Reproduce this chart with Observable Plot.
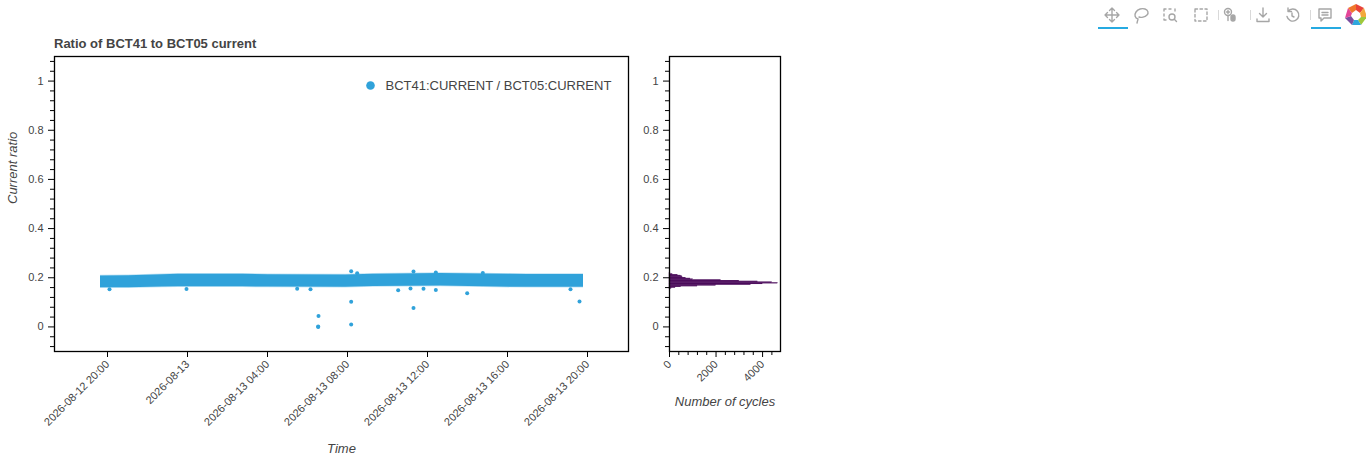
<!DOCTYPE html>
<html><head><meta charset="utf-8">
<script src="https://cdn.jsdelivr.net/npm/d3@7"></script>
<script src="https://cdn.jsdelivr.net/npm/@observablehq/plot@0.6"></script>
<style>
body{margin:0;background:#fff;font-family:"Liberation Sans",Arial,Helvetica,sans-serif;}
#wrap{position:relative;width:1366px;height:460px;overflow:hidden;background:#fff;}
#main{position:absolute;left:0;top:0;}
#hist{position:absolute;left:630px;top:0;}
#title{position:absolute;left:54px;top:37px;font-weight:bold;font-size:13px;line-height:13px;color:#444;white-space:nowrap;}
#toolbar{position:absolute;left:0;top:0;}
</style></head>
<body>
<div id="wrap">
  <div id="main"></div>
  <div id="hist"></div>
  <div id="title">Ratio of BCT41 to BCT05 current</div>
  <svg id="toolbar" width="1366" height="34" xmlns="http://www.w3.org/2000/svg">
    <g fill="none" stroke="#a6a6a6" stroke-width="1.4" stroke-linecap="round" stroke-linejoin="round">
      <path d="M1112 8v14M1105 15h14M1109.5 10.5l2.5-2.5 2.5 2.5M1109.5 19.5l2.5 2.5 2.5-2.5M1107.5 12.5l-2.5 2.5 2.5 2.5M1116.5 12.5l2.5 2.5-2.5 2.5"/>
      <path d="M1138 19c-3-1-4-4-2-7s6-4 9-3 4 4 2 6-6 3-8 2M1138 19l-1 4"/>
      <path d="M1164 9h2M1169 9h2M1164 9v2M1164 14v2M1164 19v1h2M1175 9v2"/>
      <circle cx="1172" cy="17" r="3"/>
      <path d="M1174.3 19.3l2.2 2.2"/>
      <rect x="1195" y="9" width="12" height="12" stroke-dasharray="2.5 2.5"/>
      <circle cx="1228" cy="12" r="3.5"/>
      <path d="M1226.5 12h3M1228 10.5v3M1228 15.5v5"/>
      <rect x="1231" y="15" width="4" height="6" rx="2" fill="#a6a6a6"/>
      <path d="M1263 8v9M1259.5 13.5l3.5 3.5 3.5-3.5M1257 19v2.5h12V19"/>
      <path d="M1288 11.5a6 6 0 1 1-1 5M1288 8v3.5h3.5M1292 13v3l2 1"/>
      <path d="M1319 9h12v9h-7l-3 3v-3h-2z"/>
      <path d="M1322 12.5h6M1322 15h6"/>
    </g>
    <g stroke="#d9d9d9" stroke-width="1">
      <path d="M1218.5 10v10M1250.5 10v10M1310.5 10v10"/>
    </g>
    <rect x="1098" y="27" width="30" height="2" fill="#26aae1"/>
    <rect x="1311" y="27" width="30" height="2" fill="#26aae1"/>
    <g transform="translate(1356,15)">
      <path d="M0 -11 L8 -7 L4 -2 L0 -5Z" fill="#e8433a"/>
      <path d="M8 -7 L11 2 L5 2 L4 -2Z" fill="#f3a93b"/>
      <path d="M11 2 L5 10 L2 5 L5 2Z" fill="#9ec93c"/>
      <path d="M5 10 L-4 10 L-2 5 L2 5Z" fill="#2fa7dd"/>
      <path d="M-4 10 L-11 3 L-5 1 L-2 5Z" fill="#7a4fa0"/>
      <path d="M-11 3 L-8 -7 L-4 -2 L-5 1Z" fill="#e44598"/>
      <path d="M-8 -7 L0 -11 L0 -5 L-4 -2Z" fill="#f0772c"/>
    </g>
  </svg>
</div>
<script>
// ---- data ----
const bandTimes = ["2026-08-12T19:39Z","2026-08-12T21:03Z","2026-08-12T22:45Z","2026-08-12T23:33Z","2026-08-13T02:45Z","2026-08-13T04:03Z","2026-08-13T07:54Z","2026-08-13T09:18Z","2026-08-13T12:39Z","2026-08-13T14:48Z","2026-08-13T17:00Z","2026-08-13T19:48Z"];
const bandLow  = [0.159, 0.159, 0.162, 0.163, 0.163, 0.162, 0.161, 0.164, 0.166, 0.163, 0.161, 0.161];
const bandHigh = [0.207, 0.208, 0.212, 0.214, 0.214, 0.212, 0.211, 0.214, 0.217, 0.215, 0.213, 0.213];

const outlierTimes = ["2026-08-13T06:32Z","2026-08-13T06:32Z","2026-08-13T06:33Z","2026-08-13T08:11Z","2026-08-13T08:11Z","2026-08-13T08:11Z","2026-08-13T08:29Z","2026-08-13T11:18Z","2026-08-13T11:18Z","2026-08-13T12:25Z","2026-08-13T14:46Z","2026-08-13T13:59Z","2026-08-13T19:36Z","2026-08-12T20:06Z","2026-08-12T23:57Z","2026-08-13T05:29Z","2026-08-13T06:09Z","2026-08-13T10:32Z","2026-08-13T11:09Z","2026-08-13T11:48Z","2026-08-13T12:25Z","2026-08-13T19:09Z"];
const outlierValues = [0.0, 0.002, 0.044, 0.226, 0.102, 0.010, 0.218, 0.225, 0.077, 0.221, 0.219, 0.137, 0.103, 0.153, 0.154, 0.155, 0.153, 0.149, 0.156, 0.155, 0.150, 0.153];

const histLow    = [0.152,0.155,0.158,0.161,0.164,0.167,0.170,0.173,0.176,0.179,0.182,0.185,0.188,0.191,0.194,0.197,0.200,0.203,0.206,0.209,0.212,0.215];
const histCounts = [40, 90, 260, 500, 1200, 2000, 3500, 4000, 4650, 4400, 3800, 3000, 2200, 1000, 900, 700, 560, 550, 500, 350, 130, 40];
const histBinWidth = 0.003;

const xTickTimes  = ["2026-08-12T20:00Z","2026-08-13T00:00Z","2026-08-13T04:00Z","2026-08-13T08:00Z","2026-08-13T12:00Z","2026-08-13T16:00Z","2026-08-13T20:00Z"];
const xTickLabels = ["2026-08-12 20:00","2026-08-13","2026-08-13 04:00","2026-08-13 08:00","2026-08-13 12:00","2026-08-13 16:00","2026-08-13 20:00"];
const yTicks      = [0, 0.2, 0.4, 0.6, 0.8, 1];
const yTickLabels = ["0", "0.2", "0.4", "0.6", "0.8", "1"];
const yMinorTicks = [-0.08,-0.04,0.04,0.08,0.12,0.16,0.24,0.28,0.32,0.36,0.44,0.48,0.52,0.56,0.64,0.68,0.72,0.76,0.84,0.88,0.92,0.96,1.04,1.08];
const histXTicks  = [0, 2000, 4000];
const histXMinor  = [400, 800, 1200, 1600, 2400, 2800, 3200, 3600, 4400];
const xDomain = ["2026-08-12T17:21Z", "2026-08-13T22:03Z"];
const yDomain = [-0.1, 1.1];
const histXDomain = [0, 4770];
const seriesName = "BCT41:CURRENT / BCT05:CURRENT";

// ---- tables ----
const band = bandTimes.map((t, i) => ({t: new Date(t), lo: bandLow[i], hi: bandHigh[i]}));
const outliers = outlierTimes.map((t, i) => ({t: new Date(t), v: outlierValues[i]}));
const hist = histLow.map((lo, i) => ({lo, hi: lo + histBinWidth, count: histCounts[i]}));
const xTicks = xTickTimes.map(d => new Date(d));
const xLabelMap = new Map(xTicks.map((d, i) => [+d, xTickLabels[i]]));
const yLabelFmt = d => yTickLabels[yTicks.findIndex(v => Math.abs(v - d) < 1e-9)];

const blue = "#30a2da";
const font = "Liberation Sans, Arial, Helvetica, sans-serif";
const style = {fontFamily: font, fontSize: "11px", color: "#444", background: "transparent", overflow: "visible"};

const yAxes = [
  Plot.axisY({ticks: yTicks, tickSize: 6, tickPadding: 5, tickFormat: yLabelFmt, label: null, stroke: "black", fontSize: 11}),
  Plot.axisY({ticks: yMinorTicks, tickSize: 4, tickFormat: () => "", label: null, stroke: "black"})
];

const mainChart = Plot.plot({
  width: 640, height: 460,
  marginLeft: 54, marginRight: 12, marginTop: 56, marginBottom: 109,
  style,
  x: {type: "utc", domain: xDomain.map(d => new Date(d))},
  y: {domain: yDomain},
  marks: [
    Plot.areaY(band, {x: "t", y1: d => d.lo - 0.003, y2: d => d.hi + 0.003, curve: "linear", fill: blue, fillOpacity: 0.3}),
    Plot.areaY(band, {x: "t", y1: "lo", y2: "hi", curve: "linear", fill: blue}),
    Plot.dot(outliers, {x: "t", y: "v", r: 2, fill: blue}),
    Plot.frame({stroke: "black", strokeWidth: 1.3}),
    ...yAxes,
    Plot.axisX({ticks: xTicks, tickSize: 6, tickPadding: 5, tickRotate: -45, tickFormat: d => xLabelMap.get(+d), label: null, stroke: "black", fontSize: 11}),
    Plot.text(["Current ratio"], {frameAnchor: "left", dx: -42, rotate: -90, text: d => d, lineAnchor: "middle", fontStyle: "italic", fontSize: 13, fill: "#444"}),
    Plot.text(["Time"], {frameAnchor: "bottom", dy: 97, text: d => d, lineAnchor: "middle", fontStyle: "italic", fontSize: 13, fill: "#444"}),
    Plot.dot([seriesName], {frameAnchor: "top-left", dx: 316, dy: 29, r: 4.3, fill: blue}),
    Plot.text([seriesName], {frameAnchor: "top-left", dx: 331, dy: 29, text: d => d, textAnchor: "start", lineAnchor: "middle", fontSize: 13, fill: "#444"})
  ]
});
document.getElementById("main").append(mainChart);

const histChart = Plot.plot({
  width: 160, height: 460,
  marginLeft: 39, marginRight: 10, marginTop: 56, marginBottom: 109,
  style,
  x: {domain: histXDomain},
  y: {domain: yDomain},
  marks: [
    Plot.rect(hist, {x1: () => 0, x2: "count", y1: "lo", y2: "hi", fill: "#440154", stroke: "#440154", strokeWidth: 0.3}),
    Plot.frame({stroke: "black", strokeWidth: 1.3}),
    ...yAxes,
    Plot.axisX({ticks: histXTicks, tickSize: 6, tickPadding: 5, tickRotate: -45, tickFormat: d => String(d), label: null, stroke: "black", fontSize: 11}),
    Plot.axisX({ticks: histXMinor, tickSize: 4, tickFormat: () => "", label: null, stroke: "black"}),
    Plot.text(["Number of cycles"], {frameAnchor: "bottom", dy: 50, text: d => d, lineAnchor: "middle", fontStyle: "italic", fontSize: 13, fill: "#444"})
  ]
});
document.getElementById("hist").append(histChart);
</script>
</body></html>
